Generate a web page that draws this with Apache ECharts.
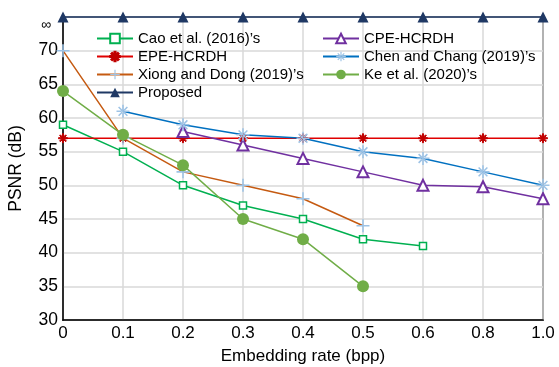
<!DOCTYPE html>
<html>
<head>
<meta charset="utf-8">
<script src="https://cdn.jsdelivr.net/npm/echarts@6/dist/echarts.min.js"></script>
<style>
  html, body { margin: 0; padding: 0; background: #fff; }
  #chart { width: 559px; height: 367px; }
</style>
</head>
<body>
<div id="chart"></div>
<script>
// x categories (evenly spaced, 0.7 and 0.9 not shown)
const rates = ['0', '0.1', '0.2', '0.3', '0.4', '0.5', '0.6', '0.8', '1.0'];

// PSNR values, 75 stands for infinity
const cao    = [59, 55, 50, 47, 45, 42, 41, null, null];
const epe    = [57, 57, 57, 57, 57, 57, 57, 57, 57];
const xiong  = [70, 57, 52, 50, 48, 44, null, null, null];
const proposed = [75, 75, 75, 75, 75, 75, 75, 75, 75];
const cpe    = [null, null, 58, 56, 54, 52, 50, 49.8, 48];
const chen   = [null, 61, 59, 57.5, 57, 55, 54, 52, 50];
const ke     = [64, 57.5, 53, 45, 42, 35, null, null, null];

const INF = 75;

const plusPath = 'path://M4.4,0h1.2v10h-1.2z M0,4.4h10v1.2h-10z';
const starPath = 'path://M4.4,0h1.2v10h-1.2z M0,4.4h10v1.2h-10z M1.2,2.1l0.85,-0.85l6.75,6.75l-0.85,0.85z M8.8,2.1l-0.85,-0.85l-6.75,6.75l0.85,0.85z';

const chart = echarts.init(document.getElementById('chart'));

function line(name, data, lineColor, symbol, size, markColor, extra) {
    return Object.assign({
        name: name,
        type: 'line',
        data: data,
        clip: false,
        symbol: symbol,
        symbolSize: size,
        lineStyle: { color: lineColor, width: 1.5 },
        itemStyle: { color: markColor, borderColor: markColor, borderWidth: 0 },
        emphasis: { disabled: true }
    }, extra || {});
}

const legendText = { fontFamily: 'Liberation Sans', fontSize: 15, lineHeight: 13, color: '#000' };

chart.setOption({
    animation: false,
    textStyle: { fontFamily: 'Liberation Sans' },
    grid: {
        left: 63, right: 16, top: 17, bottom: 47,
        outerBoundsMode: 'none',
        show: true, borderColor: '#000', borderWidth: 1.5,
        backgroundColor: 'transparent'
    },
    legend: [
        {
            data: ['Cao et al. (2016)’s', 'EPE-HCRDH', 'Xiong and Dong (2019)’s', 'Proposed'],
            orient: 'vertical', left: 91, top: 26,
            itemWidth: 36, itemHeight: 12, itemGap: 3,
            textStyle: legendText
        },
        {
            data: ['CPE-HCRDH', 'Chen and Chang (2019)’s', 'Ke et al. (2020)’s'],
            orient: 'vertical', left: 317, top: 26,
            itemWidth: 36, itemHeight: 12, itemGap: 3,
            textStyle: legendText
        }
    ],
    xAxis: {
        type: 'category',
        data: rates,
        boundaryGap: false,
        name: 'Embedding rate (bpp)',
        nameLocation: 'middle',
        nameGap: 28,
        nameTextStyle: { fontSize: 17, color: '#000' },
        axisLine: { lineStyle: { color: '#000', width: 1.5 } },
        axisTick: { show: false },
        axisLabel: { fontSize: 17, color: '#000', margin: 5 },
        splitLine: { show: true, lineStyle: { color: '#d9d9d9', width: 1.5 } }
    },
    yAxis: {
        type: 'value',
        min: 30, max: INF, interval: 5,
        name: 'PSNR (dB)',
        nameLocation: 'middle',
        nameGap: 38,
        nameTextStyle: { fontSize: 17.5, color: '#000' },
        axisLine: { show: true, lineStyle: { color: '#000', width: 1.5 } },
        axisTick: { show: false },
        axisLabel: {
            fontSize: 17.5, color: '#000', margin: 5,
            formatter: v => v === INF ? '{inf|∞}' : String(v),
            rich: { inf: { fontSize: 14, padding: [16, 7, 0, 0] } }
        },
        splitLine: { lineStyle: { color: '#d9d9d9', width: 1.5 } }
    },
    series: [
        line('Cao et al. (2016)’s', cao, '#00b050', 'rect', 7, '#00b050',
            { itemStyle: { color: '#fff', borderColor: '#00b050', borderWidth: 1.5 } }),
        line('EPE-HCRDH', epe, '#e00000', starPath, 9, '#c00000',
            { itemStyle: { color: '#c00000', borderColor: '#c00000', borderWidth: 1 } }),
        line('Xiong and Dong (2019)’s', xiong, '#c55a11', plusPath, 13, '#9dc3e6'),
        line('Proposed', proposed, '#1f3864', 'triangle', 11, '#1f3864'),
        line('CPE-HCRDH', cpe, '#7030a0', 'triangle', 11, '#7030a0',
            { itemStyle: { color: '#fff', borderColor: '#7030a0', borderWidth: 2 } }),
        line('Chen and Chang (2019)’s', chen, '#0070c0', starPath, 13, '#9dc3e6'),
        line('Ke et al. (2020)’s', ke, '#70ad47', 'circle', 12, '#70ad47')
    ]
});
</script>
</body>
</html>
